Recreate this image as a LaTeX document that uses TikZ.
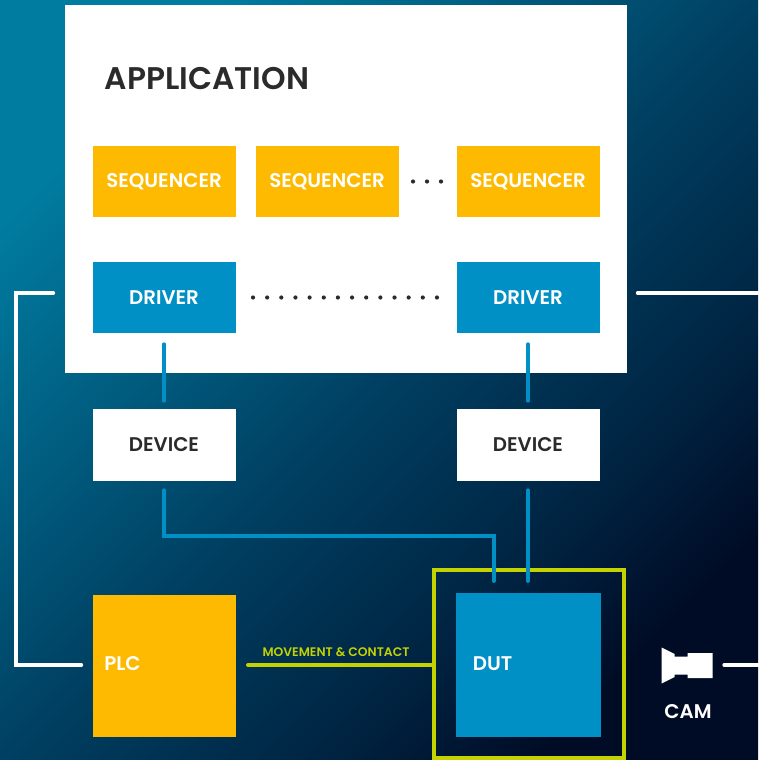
\documentclass[tikz,border=0pt]{standalone}
\usepackage{fontspec}
\setmainfont{Poppins}[BoldFont={Poppins SemiBold}]
\usetikzlibrary{arrows}
\definecolor{boxyellow}{RGB}{253,186,0}
\definecolor{boxblue}{RGB}{0,144,197}
\definecolor{linegreen}{RGB}{196,210,0}
\definecolor{inkdark}{RGB}{43,43,43}
\definecolor{bgt}{RGB}{0,124,160}
\definecolor{bga}{RGB}{0,62,96}
\definecolor{bgb}{RGB}{0,36,66}
\definecolor{bgc}{RGB}{0,12,38}
\pgfdeclareverticalshading{bgfade}{100bp}{
  color(0bp)=(bgc); color(25bp)=(bgc);
  color(35bp)=(bgb); color(49bp)=(bga); color(75bp)=(bgt); color(100bp)=(bgt)}

\begin{document}
\begin{tikzpicture}[x=1pt,y=-1pt,semithick]
  \tikzstyle{every node}=[inner sep=0pt,font=\bfseries]
  \tikzstyle{tile}=[minimum width=143pt,minimum height=71pt,font=\bfseries\fontsize{19.8}{20}\selectfont]
  \tikzstyle{seqbox}=[tile,fill=boxyellow,text=white]
  \tikzstyle{drvbox}=[tile,fill=boxblue,text=white]
  \tikzstyle{devbox}=[tile,minimum height=72pt,fill=white,text=inkdark]
  \tikzstyle{bigbox}=[minimum width=144.5pt,minimum height=144.5pt,text=white]
  \tikzstyle{blueline}=[boxblue,line width=4pt,line cap=round]
  \tikzstyle{whiteline}=[white,line width=4pt,line cap=round]
  \tikzstyle{greenline}=[linegreen,line width=3.5pt,line cap=round]
  \tikzstyle{tag}=[text=white,font=\bfseries\fontsize{19.8}{20}\selectfont]

  \useasboundingbox (0,0) rectangle (758,760);
  \shade[shading=bgfade,shading angle=45] (0,0) rectangle (758,760);

  \node[fill=white,minimum width=562pt,minimum height=368pt] (app) at (345.5,189) {};
  \node[anchor=west,text=inkdark,font=\bfseries\fontsize{31.3}{32}\selectfont] (apptitle) at (104.5,79) {APPLICATION};

  \node[seqbox] (seq1) at (164,181.5) {SEQUENCER};
  \node[seqbox] (seq2) at (327,181.5) {SEQUENCER};
  \node[seqbox] (seq3) at (528,181.5) {SEQUENCER};
  \node[drvbox] (drv1) at (164,297.5) {DRIVER};
  \node[drvbox] (drv2) at (528,297.5) {DRIVER};
  \node[devbox] (dev1) at (164,445) {DEVICE};
  \node[devbox] (dev2) at (528,445) {DEVICE};

  \node[bigbox,minimum width=143pt,minimum height=142pt,fill=boxyellow] (plc) at (164,666) {};
  \node[tag,anchor=west] (plctext) at (104,664) {PLC};
  \node[bigbox,fill=boxblue] (dut) at (528.5,665) {};
  \node[tag,anchor=west] (duttext) at (472.5,663.5) {DUT};
  \node[draw=linegreen,line width=4pt,minimum width=190pt,minimum height=188pt] (frame) at (528.5,663.5) {};

  \node[text=linegreen,font=\bfseries\fontsize{12.4}{13}\selectfont] (move) at (336,652.5) {MOVEMENT \& CONTACT};
  \node[minimum width=51pt,minimum height=36pt] (cam) at (687.5,665.5) {};
  \node[tag] (camtext) at (688,711.5) {CAM};

  \foreach \i in {0,1,2}
    \fill[inkdark] (413+14*\i,181.5) circle (2.1pt);
  \foreach \i in {0,...,13}
    \fill[inkdark] (253+14.15*\i,297.5) circle (2.1pt);

  % camera icon
  \fill[white] (cam.west) ++(0,-18) -- ++(13,6.5) -- ++(0,2.5) -- ++(13,0) -- ++(0,-3.5)
    -- ++(25,0) -- ++(0,25) -- ++(-25,0) -- ++(0,-3.5) -- ++(-13,0) -- ++(0,2.5) -- ++(-13,6.5) -- cycle;

  \coordinate (leftrail) at (16,293);
  \coordinate (rightedge) at (758,293);
  \coordinate (camedge) at (758,665);
  \coordinate (elbow) at (493.5,536);

  \draw[whiteline,shorten <=11pt,shorten >=11pt]
    (app.west |- leftrail) -- (leftrail) |- (plc.west |- camedge);
  \draw[whiteline,shorten <=11pt] (app.east |- rightedge) -- (rightedge);
  \draw[whiteline,shorten <=11pt] (cam.east |- camedge) -- (camedge);

  \draw[blueline,shorten <=11pt,shorten >=8pt] (drv1) -- (dev1);
  \draw[blueline,shorten <=11pt,shorten >=8pt] (drv2) -- (dev2);
  \draw[blueline,shorten <=9pt,shorten >=11.5pt] (dev2) -- (dev2 |- dut.north);
  \draw[blueline,shorten <=9pt,shorten >=11.5pt] (dev1) |- (elbow) -- (dut.north -| elbow);

  \draw[greenline,shorten <=12pt] (plc.east |- camedge) -- (frame.west |- camedge);
\end{tikzpicture}
\end{document}
